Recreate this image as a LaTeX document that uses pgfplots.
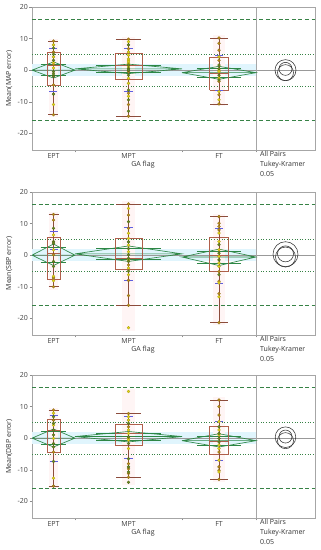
\documentclass[border=0pt]{standalone}
\usepackage{fontspec}
\setmainfont{Open Sans}
\usepackage{pgfplots}
\pgfplotsset{compat=1.18}
\definecolor{ptY}{RGB}{226,212,20}
\definecolor{ptO}{RGB}{185,140,25}
\definecolor{ptG}{RGB}{105,135,30}
\definecolor{dia}{RGB}{45,135,70}
\definecolor{refg}{RGB}{55,130,70}
\definecolor{boxc}{RGB}{175,95,75}
\definecolor{sdc}{RGB}{95,95,225}
\pgfplotsset{
  panel/.style={scale only axis, width=283pt, height=143pt, anchor=south west,
    xmin=0, xmax=283, ymin=-25.3, ymax=20,
    axis line style={black!35, line width=0.5pt},
    ytick={-20,-10,0,10,20},
    xtick={21.5,96.5,187}, xticklabels={EPT,MPT,FT},
    minor xtick={43,150,224},
    major x tick style={draw=none},
    tick align=outside, tick style={black!45},
    major tick length=2.5pt, minor tick length=2.5pt,
    xtick pos=lower, ytick pos=left,
    ticklabel style={font=\fontsize{7}{8}\selectfont, text=black!75},
    xticklabel style={inner sep=1pt},
    yticklabel style={inner sep=1.5pt},
    /pgf/number format/assume math mode=true,
    ylabel style={at={(axis description cs:-0.081,0.5)}, anchor=center, font=\fontsize{7}{8}\selectfont, text=black!80},
    clip=true},
  band/.style={fill=cyan!12, draw=none, forget plot},
  pink/.style={fill=red!4, draw=none, forget plot},
  dashg/.style={refg, line width=0.6pt, dash pattern=on 4pt off 2.5pt},
  dotg/.style={refg, dotted, line width=0.6pt},
  gm/.style={black!40, line width=0.6pt},
  sep/.style={black!35, line width=0.5pt},
  diam/.style={dia, line width=0.65pt},
  bx/.style={boxc, line width=0.6pt},
  wh/.style={boxc!80!black, line width=0.6pt},
  sd/.style={sdc, line width=0.8pt},
  pY/.style={only marks, mark=*, mark size=1.5pt, mark options={draw=ptY!70!black, fill=ptY, line width=0.2pt}},
  pO/.style={only marks, mark=*, mark size=1.5pt, mark options={draw=ptO!70!black, fill=ptO, line width=0.2pt}},
  pG/.style={only marks, mark=*, mark size=1.5pt, mark options={draw=ptG!70!black, fill=ptG, line width=0.2pt}},
  circ/.style={only marks, mark=o, mark options={draw=black!80, line width=0.55pt}},
}
\newcommand{\txt}{\fontsize{7}{10}\selectfont}
\begin{document}
\begin{tikzpicture}[x=1pt,y=1pt]
\useasboundingbox (0pt,0pt) rectangle (321pt,550pt);

% ================= Panel 1: MAP =================
\begin{axis}[panel, at={(32pt,400pt)}, ylabel={Mean(MAP error)}]
\addplot[band] coordinates {(0,-2)(224,-2)(224,2)(0,2)} -- cycle;
\addplot[pink] coordinates {(17,-15)(26,-15)(26,10)(17,10)} -- cycle;
\addplot[pink] coordinates {(90,-15.5)(103,-15.5)(103,10.6)(90,10.6)} -- cycle;
\addplot[pink] coordinates {(181,-11.5)(193,-11.5)(193,11)(181,11)} -- cycle;
\addplot[dashg] coordinates {(0,16)(283,16)};
\addplot[dashg] coordinates {(0,-16)(283,-16)};
\addplot[dotg] coordinates {(0,5)(283,5)};
\addplot[dotg] coordinates {(0,-5)(283,-5)};
\addplot[gm] coordinates {(0,0)(283,0)};
\addplot[sep] coordinates {(224,-25.3)(224,20)};
% diamonds
\addplot[diam] coordinates {(0,0)(21.5,2.6)(43,0)(21.5,-2.5)(0,0)(43,0)};
\addplot[diam] coordinates {(8.6,1.84)(34.4,1.84)};
\addplot[diam] coordinates {(8.6,-1.77)(34.4,-1.77)};
\addplot[diam] coordinates {(43,0.4)(96.5,1.9)(150,0.4)(96.5,-1.1)(43,0.4)(150,0.4)};
\addplot[diam] coordinates {(64.4,1.46)(128.6,1.46)};
\addplot[diam] coordinates {(64.4,-0.66)(128.6,-0.66)};
\addplot[diam] coordinates {(150,-0.8)(187,1.2)(224,-0.8)(187,-2.9)(150,-0.8)(224,-0.8)};
\addplot[diam] coordinates {(164.8,0.65)(209.2,0.65)};
\addplot[diam] coordinates {(164.8,-2.25)(209.2,-2.25)};
% boxes
\addplot[bx] coordinates {(15,-4.7)(28,-4.7)(28,5.5)(15,5.5)(15,-4.7)};
\addplot[bx] coordinates {(15,1.5)(28,1.5)};
\addplot[bx] coordinates {(83,-2.8)(110,-2.8)(110,5.2)(83,5.2)(83,-2.8)};
\addplot[bx] coordinates {(83,1.5)(110,1.5)};
\addplot[bx] coordinates {(177.5,-6.3)(196.5,-6.3)(196.5,4.0)(177.5,4.0)(177.5,-6.3)};
\addplot[bx] coordinates {(177.5,-1.0)(196.5,-1.0)};
% whiskers
\addplot[wh] coordinates {(21.5,-14.1)(21.5,9.2)};
\addplot[wh] coordinates {(16.5,9.2)(26.5,9.2)};
\addplot[wh] coordinates {(16.5,-14.1)(26.5,-14.1)};
\addplot[wh] coordinates {(96.5,-14.6)(96.5,9.8)};
\addplot[wh] coordinates {(84,9.8)(109,9.8)};
\addplot[wh] coordinates {(84,-14.6)(109,-14.6)};
\addplot[wh] coordinates {(187,-10.7)(187,10.2)};
\addplot[wh] coordinates {(178,10.2)(196,10.2)};
\addplot[wh] coordinates {(178,-10.7)(196,-10.7)};
% sd marks
\addplot[sd] coordinates {(17.5,7.0)(25.5,7.0)};
\addplot[sd] coordinates {(17.5,-6.8)(25.5,-6.8)};
\addplot[sd] coordinates {(92,6.8)(101,6.8)};
\addplot[sd] coordinates {(92,-6.6)(101,-6.6)};
\addplot[sd] coordinates {(183,4.7)(191,4.7)};
\addplot[sd] coordinates {(183,-6.3)(191,-6.3)};
% points
\addplot[pO] coordinates {(21.5,9.2)(21.5,5.7)(21.5,1.8)(21.5,-4.7)(21.5,-14.1)};
\addplot[pY] coordinates {(21.5,8.0)(21.5,4.2)(21.5,0.7)(21.5,-10.9)(21.5,2.4)};
\addplot[pG] coordinates {(21.5,7.0)(21.5,5.0)(21.5,3.1)(21.5,-0.5)(21.5,-1.9)(21.5,-7.6)(21.5,-1.2)};
\addplot[pO] coordinates {(96.5,9.8)(96.5,6.8)(96.5,-0.5)(96.5,-7.3)(96.5,-10.9)(96.5,-14.6)};
\addplot[pY] coordinates {(96.5,9.0)(96.5,5.7)(96.5,4.7)(96.5,3.6)(96.5,3.1)(96.5,2.6)(96.5,2.1)(96.5,1.0)(96.5,-2.6)(96.5,-4.2)(96.5,-8.3)};
\addplot[pG] coordinates {(96.5,8.0)(96.5,1.6)(96.5,0.5)(96.5,0)(96.5,-1.6)(96.5,-6.3)(96.5,-9.4)(96.5,-13.0)};
\addplot[pO] coordinates {(187,10.2)(187,8.5)(187,6.3)(187,3.1)(187,-3.6)(187,-7.8)(187,-10.7)};
\addplot[pY] coordinates {(187,4.2)(187,0)(187,-0.5)(187,-2.5)(187,-6.8)(187,-9.4)};
\addplot[pG] coordinates {(187,1.6)(187,0.5)(187,-1.6)(187,-3.1)};
% comparison circles
\addplot[circ, mark size=10.5pt] coordinates {(253.5,0)};
\addplot[circ, mark size=8pt] coordinates {(253.5,-0.8)};
\addplot[circ, mark size=6.5pt] coordinates {(253.5,0.4)};
\end{axis}
\node[font=\txt, text=black!80] at (143pt,385pt) {GA flag};
\node[font=\txt, text=black!80, anchor=north west, align=left, inner sep=0pt] at (260pt,399pt) {All Pairs\\Tukey-Kramer\\0.05};

% ================= Panel 2: SBP =================
\begin{axis}[panel, at={(32pt,215pt)}, ylabel={Mean(SBP error)}]
\addplot[band] coordinates {(0,-2)(224,-2)(224,2)(0,2)} -- cycle;
\addplot[pink] coordinates {(17,-11)(26,-11)(26,13.8)(17,13.8)} -- cycle;
\addplot[pink] coordinates {(90,-24)(103,-24)(103,17)(90,17)} -- cycle;
\addplot[pink] coordinates {(181,-22.2)(193,-22.2)(193,13)(181,13)} -- cycle;
\addplot[dashg] coordinates {(0,16)(283,16)};
\addplot[dashg] coordinates {(0,-16)(283,-16)};
\addplot[dotg] coordinates {(0,5)(283,5)};
\addplot[dotg] coordinates {(0,-5)(283,-5)};
\addplot[gm] coordinates {(0,0)(283,0)};
\addplot[sep] coordinates {(224,-25.3)(224,20)};
\addplot[diam] coordinates {(0,0)(21.5,3.5)(43,0)(21.5,-3.3)(0,0)(43,0)};
\addplot[diam] coordinates {(8.6,2.4)(34.4,2.4)};
\addplot[diam] coordinates {(8.6,-2.4)(34.4,-2.4)};
\addplot[diam] coordinates {(43,0.4)(96.5,2.9)(150,0.4)(96.5,-2.0)(43,0.4)(150,0.4)};
\addplot[diam] coordinates {(64.4,2.17)(128.6,2.17)};
\addplot[diam] coordinates {(64.4,-1.37)(128.6,-1.37)};
\addplot[diam] coordinates {(150,-0.6)(187,1.9)(224,-0.6)(187,-3.3)(150,-0.6)(224,-0.6)};
\addplot[diam] coordinates {(164.8,1.24)(209.2,1.24)};
\addplot[diam] coordinates {(164.8,-2.44)(209.2,-2.44)};
\addplot[bx] coordinates {(15,-7.5)(28,-7.5)(28,5.6)(15,5.6)(15,-7.5)};
\addplot[bx] coordinates {(15,0.5)(28,0.5)};
\addplot[bx] coordinates {(83,-4.6)(110,-4.6)(110,5.2)(83,5.2)(83,-4.6)};
\addplot[bx] coordinates {(83,-1.0)(110,-1.0)};
\addplot[bx] coordinates {(177.5,-5.0)(196.5,-5.0)(196.5,5.7)(177.5,5.7)(177.5,-5.0)};
\addplot[bx] coordinates {(177.5,0)(196.5,0)};
\addplot[wh] coordinates {(21.5,-10)(21.5,12.9)};
\addplot[wh] coordinates {(16.5,12.9)(26.5,12.9)};
\addplot[wh] coordinates {(16.5,-10)(26.5,-10)};
\addplot[wh] coordinates {(96.5,-15.9)(96.5,16.2)};
\addplot[wh] coordinates {(84,16.2)(109,16.2)};
\addplot[wh] coordinates {(84,-15.9)(109,-15.9)};
\addplot[wh] coordinates {(187,-21.4)(187,12.2)};
\addplot[wh] coordinates {(178,12.2)(196,12.2)};
\addplot[wh] coordinates {(178,-21.4)(196,-21.4)};
\addplot[sd] coordinates {(17.5,7.5)(25.5,7.5)};
\addplot[sd] coordinates {(17.5,1.9)(25.5,1.9)};
\addplot[sd] coordinates {(92,8.7)(101,8.7)};
\addplot[sd] coordinates {(92,-7.9)(101,-7.9)};
\addplot[sd] coordinates {(183,8.5)(191,8.5)};
\addplot[sd] coordinates {(183,-8.8)(191,-8.8)};
\addplot[pO] coordinates {(21.5,12.9)(21.5,11.1)(21.5,0.1)(21.5,-7.2)(21.5,-10)};
\addplot[pY] coordinates {(21.5,6.4)(21.5,1.7)(21.5,-6.7)(21.5,-8.1)};
\addplot[pG] coordinates {(21.5,8.5)(21.5,4.3)(21.5,3.8)(21.5,-2.0)(21.5,-3.6)};
\addplot[pO] coordinates {(96.5,16.2)(96.5,12.7)(96.5,8.5)(96.5,-3.1)(96.5,-8.0)(96.5,-12.8)(96.5,-15.9)};
\addplot[pY] coordinates {(96.5,14.8)(96.5,6.9)(96.5,5.3)(96.5,3.2)(96.5,1.1)(96.5,-1.5)(96.5,-4.1)(96.5,-6.2)(96.5,-23.0)};
\addplot[pG] coordinates {(96.5,10.6)(96.5,4.2)(96.5,2.1)(96.5,0.1)(96.5,-1.0)(96.5,-2.0)(96.5,-5.1)};
\addplot[pO] coordinates {(187,12.2)(187,10.1)(187,9.1)(187,8.0)(187,-5.2)(187,-8.3)(187,-12.2)(187,-21.4)};
\addplot[pY] coordinates {(187,7.0)(187,4.3)(187,1.7)(187,-0.4)(187,-2.5)(187,-3.6)(187,-8.8)(187,-13.2)};
\addplot[pG] coordinates {(187,3.3)(187,0.6)(187,-1.5)(187,-6.2)};
\addplot[circ, mark size=12.5pt] coordinates {(253.5,0.3)};
\addplot[circ, mark size=10pt] coordinates {(253.5,-0.6)};
\addplot[circ, mark size=8pt] coordinates {(253.5,0.4)};
\end{axis}
\node[font=\txt, text=black!80] at (143pt,200pt) {GA flag};
\node[font=\txt, text=black!80, anchor=north west, align=left, inner sep=0pt] at (260pt,214pt) {All Pairs\\Tukey-Kramer\\0.05};

% ================= Panel 3: DBP =================
\begin{axis}[panel, at={(32pt,32pt)}, ylabel={Mean(DBP error)}]
\addplot[band] coordinates {(0,-2)(224,-2)(224,2)(0,2)} -- cycle;
\addplot[pink] coordinates {(17,-16)(26,-16)(26,9.7)(17,9.7)} -- cycle;
\addplot[pink] coordinates {(90,-14.8)(103,-14.8)(103,15.6)(90,15.6)} -- cycle;
\addplot[pink] coordinates {(181,-13.9)(193,-13.9)(193,12.9)(181,12.9)} -- cycle;
\addplot[dashg] coordinates {(0,16)(283,16)};
\addplot[dashg] coordinates {(0,-16)(283,-16)};
\addplot[dotg] coordinates {(0,5)(283,5)};
\addplot[dotg] coordinates {(0,-5)(283,-5)};
\addplot[gm] coordinates {(0,0)(283,0)};
\addplot[sep] coordinates {(224,-25.3)(224,20)};
\addplot[diam] coordinates {(0,0)(21.5,2.9)(43,0)(21.5,-2.8)(0,0)(43,0)};
\addplot[diam] coordinates {(8.6,2.0)(34.4,2.0)};
\addplot[diam] coordinates {(8.6,-2.0)(34.4,-2.0)};
\addplot[diam] coordinates {(43,0.5)(96.5,2.1)(150,0.5)(96.5,-1.2)(43,0.5)(150,0.5)};
\addplot[diam] coordinates {(64.4,1.67)(128.6,1.67)};
\addplot[diam] coordinates {(64.4,-0.67)(128.6,-0.67)};
\addplot[diam] coordinates {(150,-0.8)(187,1.4)(224,-0.8)(187,-2.8)(150,-0.8)(224,-0.8)};
\addplot[diam] coordinates {(164.8,0.68)(209.2,0.68)};
\addplot[diam] coordinates {(164.8,-2.28)(209.2,-2.28)};
\addplot[bx] coordinates {(15,-4.6)(28,-4.6)(28,6.0)(15,6.0)(15,-4.6)};
\addplot[bx] coordinates {(15,2.5)(28,2.5)};
\addplot[bx] coordinates {(83,-2.2)(110,-2.2)(110,4.5)(83,4.5)(83,-2.2)};
\addplot[bx] coordinates {(83,1.5)(110,1.5)};
\addplot[bx] coordinates {(177.5,-5.2)(196.5,-5.2)(196.5,3.8)(177.5,3.8)(177.5,-5.2)};
\addplot[bx] coordinates {(177.5,-1.0)(196.5,-1.0)};
\addplot[wh] coordinates {(21.5,-15.2)(21.5,8.9)};
\addplot[wh] coordinates {(16.5,8.9)(26.5,8.9)};
\addplot[wh] coordinates {(16.5,-15.2)(26.5,-15.2)};
\addplot[wh] coordinates {(96.5,-12.4)(96.5,7.8)};
\addplot[wh] coordinates {(84,7.8)(109,7.8)};
\addplot[wh] coordinates {(84,-12.4)(109,-12.4)};
\addplot[wh] coordinates {(187,-13.1)(187,12.1)};
\addplot[wh] coordinates {(178,12.1)(196,12.1)};
\addplot[wh] coordinates {(178,-13.1)(196,-13.1)};
\addplot[sd] coordinates {(17.5,7.3)(25.5,7.3)};
\addplot[sd] coordinates {(17.5,-7.3)(25.5,-7.3)};
\addplot[sd] coordinates {(92,7.0)(101,7.0)};
\addplot[sd] coordinates {(92,-6.5)(101,-6.5)};
\addplot[sd] coordinates {(183,5.4)(191,5.4)};
\addplot[sd] coordinates {(183,-7.0)(191,-7.0)};
\addplot[pO] coordinates {(21.5,8.9)(21.5,5.7)(21.5,-4.4)(21.5,-15.2)};
\addplot[pY] coordinates {(21.5,7.9)(21.5,4.1)(21.5,-12.7)(21.5,-0.1)};
\addplot[pG] coordinates {(21.5,6.8)(21.5,4.7)(21.5,2.6)(21.5,1.0)(21.5,-1.7)(21.5,-2.8)(21.5,-7.4)};
\addplot[pO] coordinates {(96.5,7.8)(96.5,3.6)(96.5,-8.1)(96.5,-9.7)(96.5,-11.2)(96.5,-12.4)};
\addplot[pY] coordinates {(96.5,14.8)(96.5,6.8)(96.5,5.7)(96.5,2.6)(96.5,1.5)(96.5,-0.1)(96.5,-0.6)(96.5,-3.3)};
\addplot[pG] coordinates {(96.5,4.7)(96.5,0.4)(96.5,-1.7)(96.5,-6.5)(96.5,-9.1)(96.5,-10.7)(96.5,-14.0)};
\addplot[pO] coordinates {(187,12.1)(187,10.0)(187,7.3)(187,-4.4)(187,-9.1)(187,-10.2)(187,-13.1)};
\addplot[pY] coordinates {(187,5.2)(187,2.6)(187,1.0)(187,-2.2)(187,-3.3)(187,-7.0)(187,-10.7)};
\addplot[pG] coordinates {(187,3.6)(187,1.5)(187,-0.1)(187,-1.2)};
\addplot[circ, mark size=10.3pt] coordinates {(253.5,0.3)};
\addplot[circ, mark size=8pt] coordinates {(253.5,-0.8)};
\addplot[circ, mark size=6.5pt] coordinates {(253.5,0.5)};
\end{axis}
\node[font=\txt, text=black!80] at (143pt,17pt) {GA flag};
\node[font=\txt, text=black!80, anchor=north west, align=left, inner sep=0pt] at (260pt,31pt) {All Pairs\\Tukey-Kramer\\0.05};
\end{tikzpicture}
\end{document}
